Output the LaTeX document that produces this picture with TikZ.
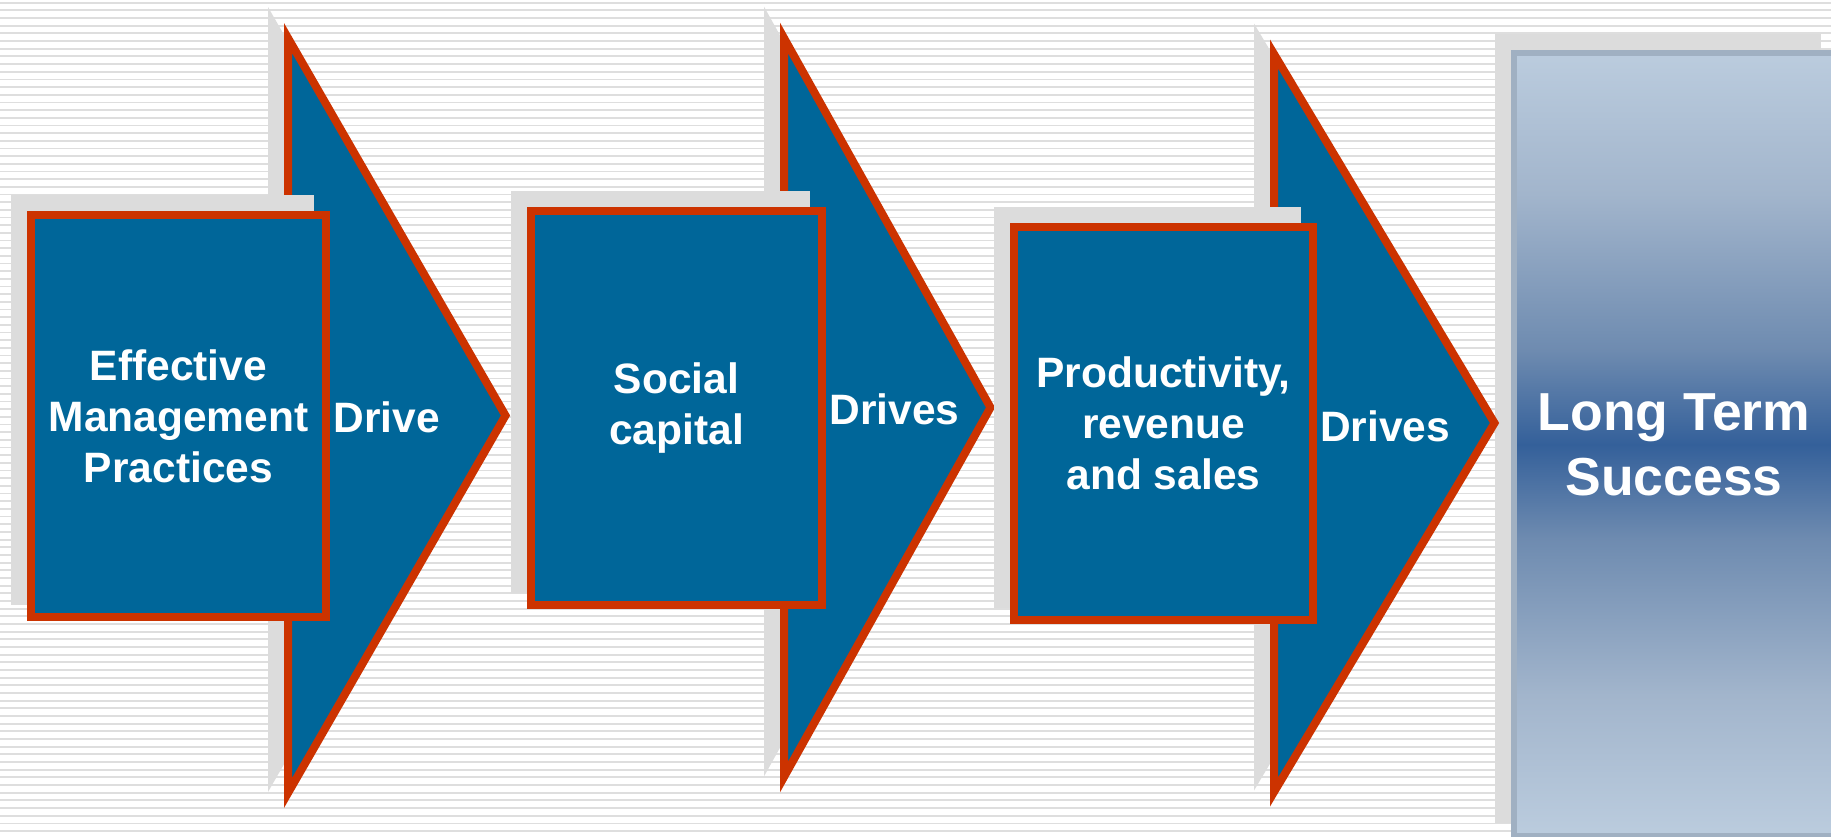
\documentclass[tikz,border=0pt]{standalone}
\usepackage{fontspec}
\setmainfont{Liberation Sans}
\usepackage{tikz}
\usetikzlibrary{positioning}

\definecolor{chevblue}{RGB}{0,102,153}
\definecolor{chevred}{RGB}{204,51,0}
\definecolor{shade}{RGB}{220,220,220}
\definecolor{stripe}{RGB}{222,222,222}
\definecolor{goalrim}{RGB}{160,176,194}
\definecolor{goallight}{RGB}{187,204,222}
\definecolor{goalmid}{RGB}{162,181,204}
\definecolor{goalsoft}{RGB}{110,139,176}
\definecolor{goaldark}{RGB}{52,96,154}

% only 25bp..75bp of a vertical shading shows in a path
\pgfdeclareverticalshading{goalshade}{100bp}{color(0bp)=(goallight); color(25bp)=(goallight); color(34bp)=(goalmid); color(44bp)=(goalsoft); color(50bp)=(goaldark); color(56bp)=(goalsoft); color(66bp)=(goalmid); color(75bp)=(goallight); color(100bp)=(goallight)}

\begin{document}
\begin{tikzpicture}[x=1pt,y=-1pt,
  chevron/.style={draw=chevred, fill=chevblue, line width=8pt, line join=miter},
  chevshade/.style={draw=shade, fill=shade, line width=8pt, line join=miter},
  stagebox/.style={draw=chevred, fill=chevblue, line width=8pt, outer sep=0pt, inner sep=0pt,
    text=white, align=center, font=\bfseries\fontsize{42.5}{51}\selectfont},
  boxshade/.style={draw=shade, fill=shade, line width=8pt, outer sep=0pt, inner sep=0pt},
  drivelabel/.style={text=white, inner sep=0pt, font=\bfseries\fontsize{42.5}{51}\selectfont},
  goalbox/.style={draw=goalrim, shading=goalshade, line width=6pt, outer sep=0pt, inner sep=0pt,
    text=white, align=center, font=\bfseries\fontsize{53.5}{65}\selectfont}]
  \useasboundingbox (0,0) rectangle (1831,836);
  \clip (0,0) rectangle (1831,836);

  % striped background
  \fill[white] (0,0) rectangle (1831,836);
  \foreach \k in {0,...,108}
    \draw[stripe, line width=1.8pt] (0,{2.7+7.67*\k}) -- (1831,{2.7+7.67*\k});

  % goal box
  \node[boxshade, line width=6pt, minimum width=320pt, minimum height=783pt] (success-shade) at (1658,428.5) {};
  \node[goalbox, minimum width=320pt, minimum height=783pt] (success) at (1674,444.5) {Long Term\\Success};

  % chevrons
  \foreach \xl/\yt/\xt/\ym/\yb in {288/38/505.5/415.5/793, 784/38/990.5/407.5/777, 1274/54/1494.5/423/792} {
    \draw[chevshade, shift={(-16,-16)}] (\xl,\yt) -- (\xt,\ym) -- (\xl,\yb) -- cycle;
    \draw[chevron] (\xl,\yt) -- (\xt,\ym) -- (\xl,\yb) -- cycle;
  }

  % stage boxes
  \node[boxshade, minimum width=295pt, minimum height=402pt] (practices-shade) at (162.5,400) {};
  \node[stagebox, minimum width=295pt, minimum height=402pt] (practices) at (178.5,416) {Effective\\Management\\Practices};

  \node[boxshade, minimum width=291pt, minimum height=394pt] (capital-shade) at (660.5,392) {};
  \node[stagebox, minimum width=291pt, minimum height=394pt] (capital) at (676.5,408) {Social\\capital};

  \node[boxshade, minimum width=299pt, minimum height=393pt] (output-shade) at (1147.5,407.5) {};
  \node[stagebox, minimum width=299pt, minimum height=393pt] (output) at (1163.5,423.5) {Productivity,\\revenue\\and sales};

  % arrow labels
  \node[drivelabel] (drive1) at (386.5,417) {Drive};
  \node[drivelabel] (drive2) at (894.5,409) {Drives};
  \node[drivelabel] (drive3) at (1385,426) {Drives};
\end{tikzpicture}
\end{document}
